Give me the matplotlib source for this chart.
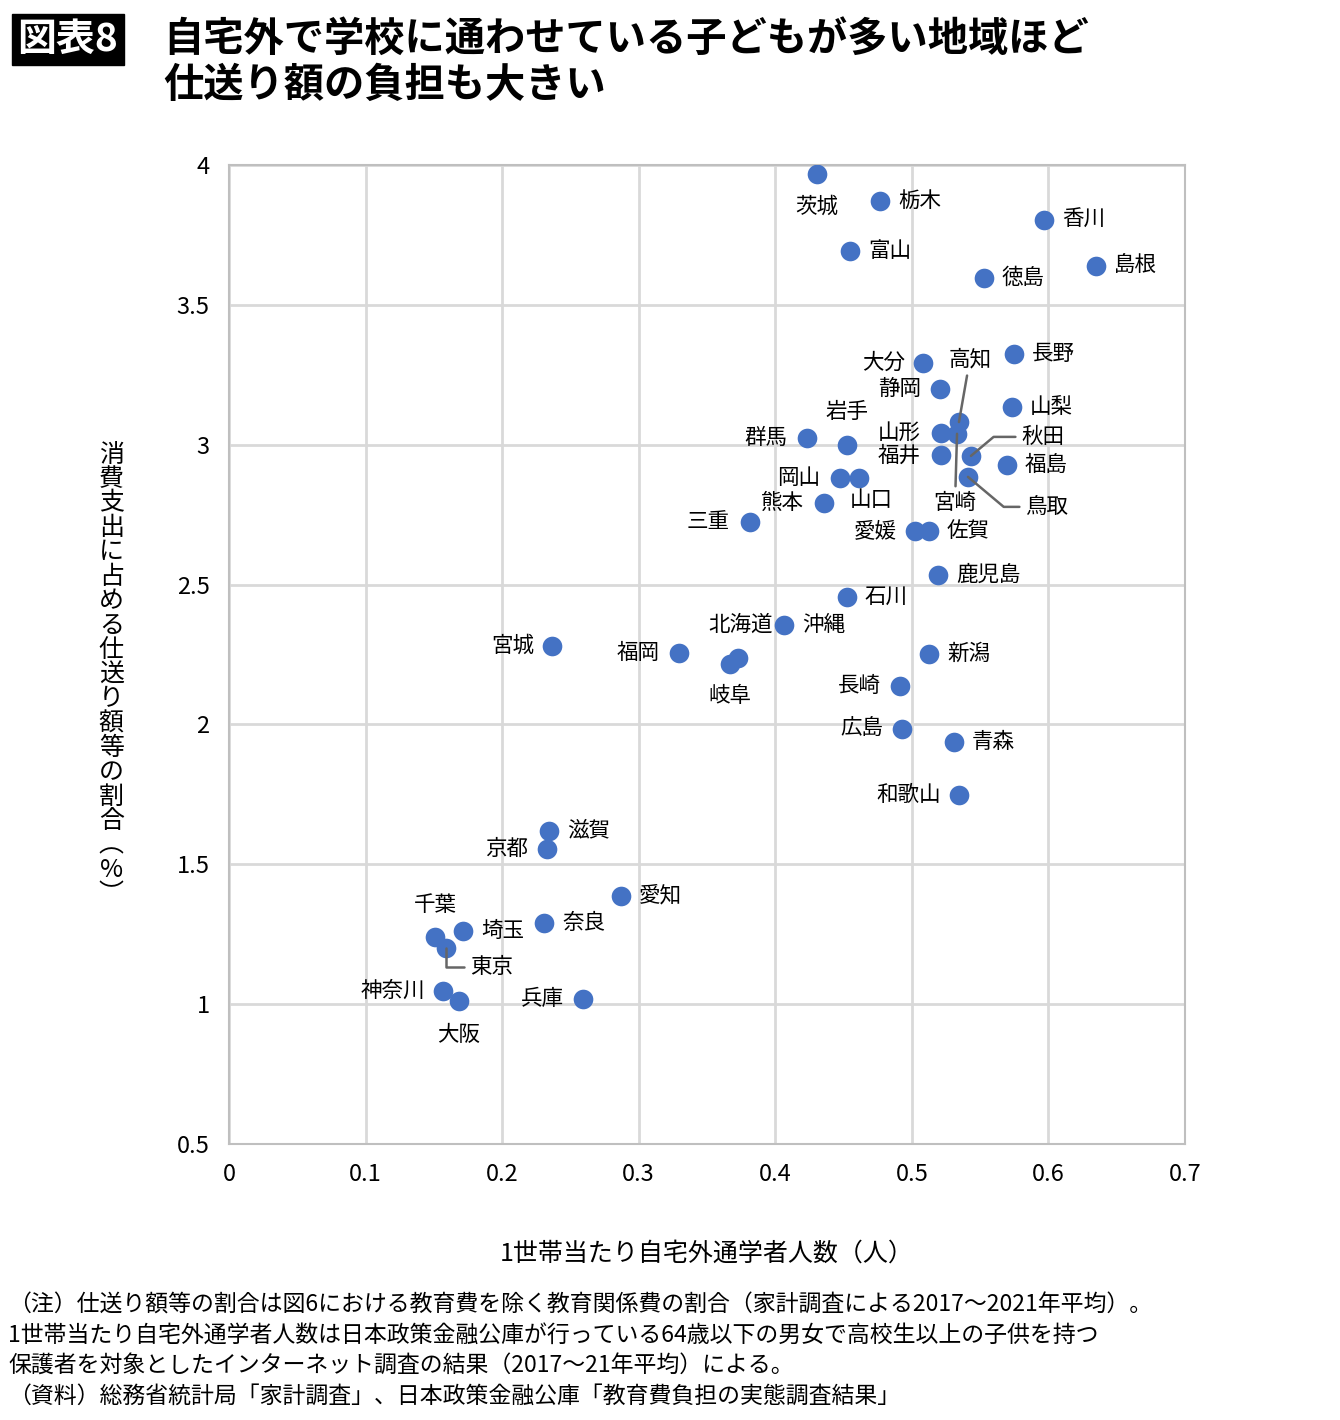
import matplotlib.pyplot as plt

plt.rcParams['font.family'] = ['Noto Sans CJK JP', 'DejaVu Sans']

names = ['茨城', '栃木', '香川', '富山', '徳島', '島根', '長野', '大分', '静岡', '高知',
         '山形', '宮崎', '山梨', '群馬', '岩手', '福井', '秋田', '福島', '鳥取', '岡山',
         '山口', '熊本', '三重', '愛媛', '佐賀', '鹿児島', '石川', '沖縄', '北海道', '宮城',
         '福岡', '岐阜', '新潟', '長崎', '広島', '青森', '和歌山', '滋賀', '京都', '愛知',
         '奈良', '埼玉', '千葉', '東京', '神奈川', '大阪', '兵庫']
x = [0.4305, 0.4767, 0.5968, 0.4547, 0.5528, 0.6348, 0.5748, 0.5082, 0.5206, 0.5345,
     0.5213, 0.5331, 0.5733, 0.4232, 0.4525, 0.5213, 0.5433, 0.5697, 0.5411, 0.4474,
     0.4613, 0.4357, 0.3815, 0.5023, 0.5126, 0.5191, 0.4525, 0.4064, 0.3727, 0.2365,
     0.3295, 0.3668, 0.5126, 0.4913, 0.4928, 0.5309, 0.5345, 0.2343, 0.2328, 0.2870,
     0.2307, 0.1713, 0.1508, 0.1589, 0.1567, 0.1684, 0.2592]
y = [3.968, 3.871, 3.803, 3.693, 3.596, 3.639, 3.325, 3.292, 3.199, 3.081,
     3.042, 3.039, 3.135, 3.024, 3.000, 2.964, 2.960, 2.928, 2.885, 2.881,
     2.881, 2.792, 2.724, 2.692, 2.692, 2.535, 2.456, 2.356, 2.238, 2.281,
     2.256, 2.217, 2.252, 2.138, 1.984, 1.938, 1.748, 1.620, 1.555, 1.387,
     1.291, 1.262, 1.241, 1.202, 1.048, 1.012, 1.019]

# label offsets in pixels (dx, dy down), alignment
R, L, C = 'left', 'right', 'center'
offsets = {
    '茨城': (0, 33, C), '岩手': (0, -33, C), '岐阜': (0, 32, C), '千葉': (0, -32, C),
    '大阪': (0, 34, C), '山口': (12, 22, C),
    '大分': (-18, 0, L), '静岡': (-19, 0, L), '山形': (-20, 0, L), '群馬': (-20, 0, L),
    '福井': (-20, 1, L), '岡山': (-20, 0, L), '熊本': (-20, 0, L), '三重': (-20, 0, L),
    '愛媛': (-18, 0, L), '宮城': (-18, 0, L), '福岡': (-19, 0, L), '長崎': (-19, 0, L),
    '広島': (-19, 0, L), '和歌山': (-18, 0, L), '京都': (-19, 0, L), '神奈川': (-18, 0, L),
    '兵庫': (-19, 0, L), '北海道': (35, -33, L),
}
# labels with leader lines: (dx, dy, ha, connection)
leaders = {'高知': (11, -63, C, 'arc3'), '宮崎': (-2, 69, C, 'arc3'),
           '秋田': (50, -19, R, 'angle,angleA=0,angleB=40,rad=0'),
           '鳥取': (57, 30, R, 'angle,angleA=0,angleB=-40,rad=0'),
           '東京': (24, 19, R, 'angle,angleA=0,angleB=90,rad=0')}

fig = plt.figure(figsize=(13.4, 14.2), dpi=100)
ax = fig.add_axes([0.1709, 0.1944, 0.7134, 0.6894])
ax.scatter(x, y, s=200, color='#4472C4', zorder=3, linewidths=0)
ax.set_xlim(0, 0.7)
ax.set_ylim(0.5, 4)
ax.set_xticks([0, 0.1, 0.2, 0.3, 0.4, 0.5, 0.6, 0.7])
ax.set_xticklabels(['0', '0.1', '0.2', '0.3', '0.4', '0.5', '0.6', '0.7'])
ax.set_yticks([0.5, 1, 1.5, 2, 2.5, 3, 3.5, 4])
ax.set_yticklabels(['0.5', '1', '1.5', '2', '2.5', '3', '3.5', '4'])
ax.grid(True, color='#d9d9d9', linewidth=2)
ax.set_axisbelow(True)
ax.tick_params(length=0, labelsize=17, pad=14)
for s in ax.spines.values():
    s.set_color('#bfbfbf')
    s.set_linewidth(1.5)

for n, xi, yi in zip(names, x, y):
    if n in leaders:
        dx, dy, ha, cs = leaders[n]
        ax.annotate(n, (xi, yi), xytext=(dx, -dy), textcoords='offset pixels',
                    ha=ha, va='center', fontsize=15.5,
                    arrowprops=dict(arrowstyle='-', color='#666666', lw=1.8,
                                    shrinkA=2, shrinkB=0, connectionstyle=cs))
    else:
        dx, dy, ha = offsets.get(n, (18, 0, R))
        ax.annotate(n, (xi, yi), xytext=(dx, -dy), textcoords='offset pixels',
                    ha=ha, va='center', fontsize=15.5)

ax.text(0.5, -0.112, '1世帯当たり自宅外通学者人数（人）', transform=ax.transAxes,
        ha='center', va='center', fontsize=18)
ylab = '消費支出に占める仕送り額等の割合︵%︶'
fig.text(0.083, 0.525, '\n'.join(ylab), ha='center', va='center', fontsize=18, linespacing=0.92)

fig.text(0.013, 0.972, '図表8', ha='left', va='center', fontsize=28, color='white',
         fontweight='bold', bbox=dict(boxstyle='square,pad=0.15', fc='black', ec='black'))
fig.text(0.1216, 0.972, '自宅外で学校に通わせている子どもが多い地域ほど', ha='left', va='center',
         fontsize=29, fontweight='bold')
fig.text(0.1216, 0.940, '仕送り額の負担も大きい', ha='left', va='center', fontsize=29, fontweight='bold')

notes = ['（注）仕送り額等の割合は図6における教育費を除く教育関係費の割合（家計調査による2017～2021年平均）。',
         '1世帯当たり自宅外通学者人数は日本政策金融公庫が行っている64歳以下の男女で高校生以上の子供を持つ',
         '保護者を対象としたインターネット調査の結果（2017～21年平均）による。',
         '（資料）総務省統計局「家計調査」、日本政策金融公庫「教育費負担の実態調査結果」']
for i, t in enumerate(notes):
    fig.text(0.006, 1 - (1305 + 30.5 * i) / 1420, t, ha='left', va='center', fontsize=16.5)

fig.savefig('out.png', dpi=100)
